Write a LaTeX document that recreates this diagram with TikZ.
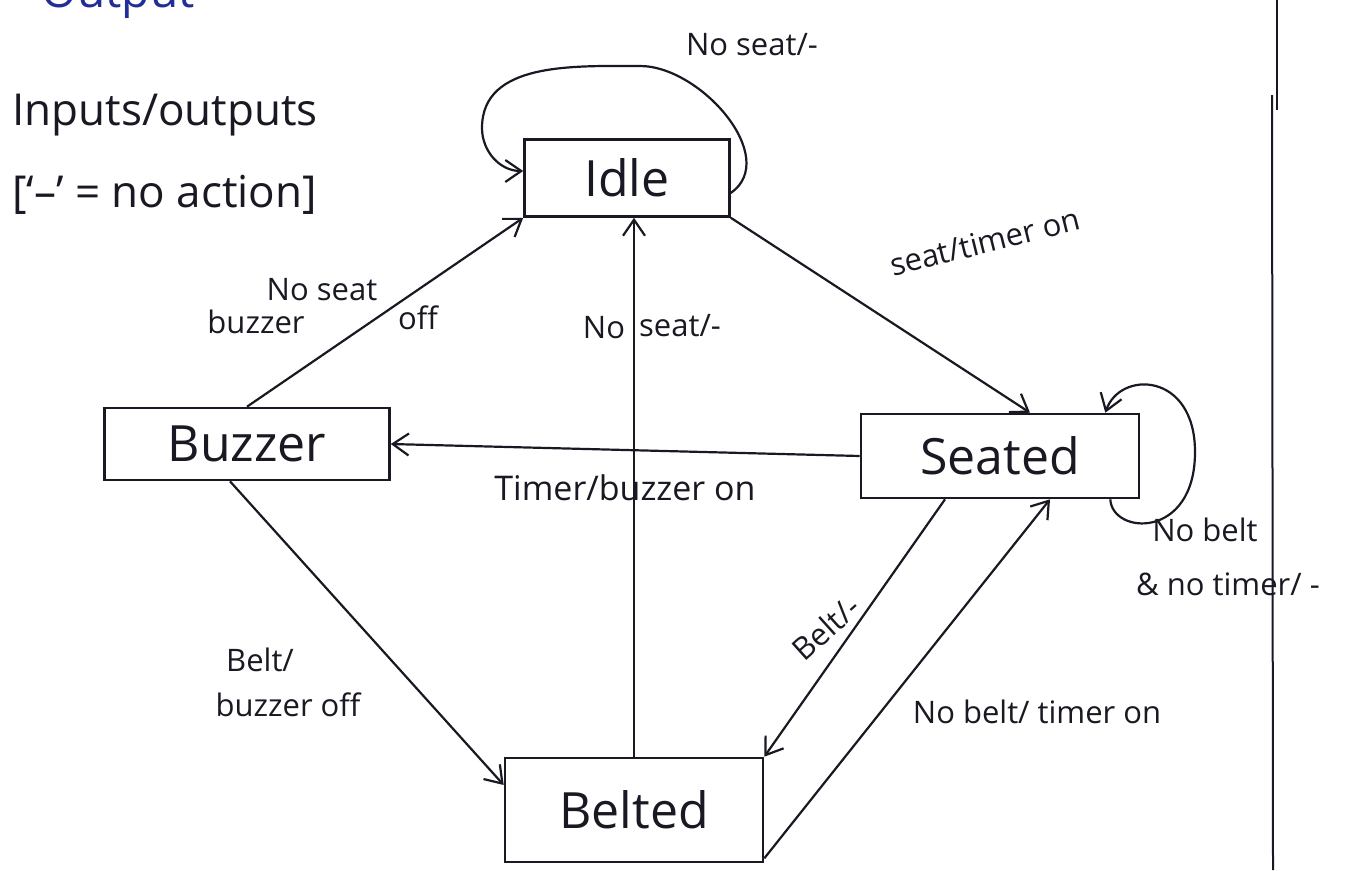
\documentclass[tikz,border=0pt]{standalone}
\usepackage{fontspec}
\setmainfont{Open Sans}
\usetikzlibrary{arrows.meta}
\definecolor{ink}{RGB}{25,25,35}
\definecolor{blueink}{RGB}{35,45,150}
\tikzset{
  state/.style={draw=ink, line width=2.6pt, rectangle, inner sep=0pt, font=\fontsize{50}{56}\selectfont, text=ink},
  edge/.style={draw=ink, line width=2.2pt, -{Straight Barb[length=16pt,width=22pt,line width=2.2pt]}},
  lbl/.style={text=ink, font=\fontsize{31}{35}\selectfont, inner sep=0pt},
  biglbl/.style={text=ink, font=\fontsize{44}{50}\selectfont, inner sep=0pt, anchor=west},
}
\begin{document}
\begin{tikzpicture}[x=1pt,y=-1pt]
\useasboundingbox (0,0) rectangle (1351,870);
\fill[white] (0,0) rectangle (1351,870);
% cut-off heading
\begin{scope}
\clip (0,0) rectangle (1351,870);
\node[text=blueink, font=\fontsize{46}{50}\selectfont, inner sep=0pt] (head) at (118,-4) {Output};
\end{scope}
% states
\node[state, minimum width=205, minimum height=77] (idle) at (627,178) {Idle};
\node[state, minimum width=285, minimum height=72] (buzzer) at (247,444) {Buzzer};
\node[state, minimum width=278, minimum height=84] (seated) at (1000,456) {Seated};
\node[state, minimum width=258, minimum height=104] (belted) at (634,810) {Belted};
% legend
\node[biglbl] (leg1) at (12,115) {Inputs/outputs};
\node[biglbl] (leg2) at (12,195) {[`--' = no action]};
% page margin line
\draw[ink, line width=2pt] (1277,0) -- (1277,110);
\draw[ink, line width=2pt] (1272,95) -- (1273,870);
% transitions
\draw[edge] (buzzer.north) -- (idle.south west);
\draw[edge] (idle.south east) -- ([xshift=30]seated.north);
\draw[edge] (seated.west) -- (buzzer.east);
\draw[edge] (belted.north) -- (belted.north |- idle.south);
\draw[edge] ([xshift=-17]buzzer.south) -- ([yshift=25]belted.west);
\draw[edge] ([xshift=-55]seated.south) -- (belted.north east);
\draw[edge] ([yshift=5]belted.south east) -- ([xshift=50]seated.south);
% self loops
\coordinate (itop) at (640,66);
\coordinate (ileft) at (482,128);
\draw[edge] ([yshift=-15]idle.east) to[out=35,in=0] (itop) to[out=180,in=90] (ileft) to[out=-90,in=180] ([yshift=7]idle.west);
\coordinate (sright) at (1195,452);
\draw[edge] ([xshift=-30]seated.south east) .. controls (1112,535) and (1195,540) .. (sright) .. controls (1195,372) and (1120,370) .. ([xshift=-35]seated.north east);
% labels
\node[lbl] (l1) at (752,45) {No seat/-};
\node[lbl] (l2a) at (322,290) {No seat};
\node[lbl] (l2b) at (256,322) {buzzer};
\node[lbl] (l2c) at (418,318) {off};
\node[lbl] (l3a) at (604,328) {No};
\node[lbl] (l3b) at (680,326) {seat/-};
\node[lbl, rotate=14] (l4) at (985,242) {seat/timer on};
\node[lbl, font=\fontsize{34}{38}\selectfont] (l5) at (625,488) {Timer/buzzer on};
\node[lbl] (l6a) at (1205,530) {No belt};
\node[lbl] (l6b) at (1228,584) {\& no timer/ -};
\node[lbl] (l7a) at (260,660) {Belt/};
\node[lbl] (l7b) at (288,705) {buzzer off};
\node[lbl, rotate=42] (l8) at (826,628) {Belt/-};
\node[lbl] (l9) at (1037,712) {No belt/ timer on};
\end{tikzpicture}
\end{document}
